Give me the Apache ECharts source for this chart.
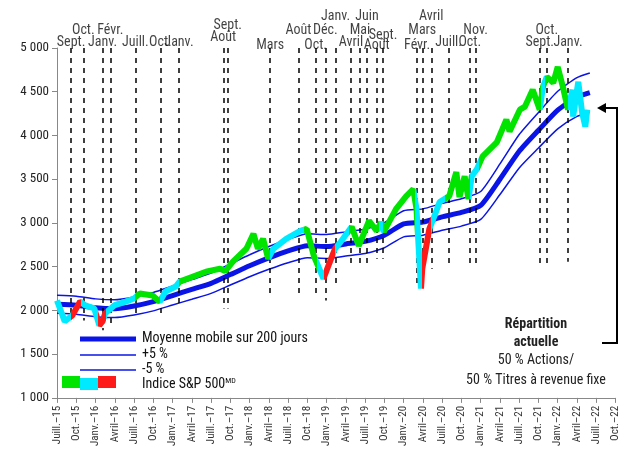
<!DOCTYPE html>
<html>
<head>
<meta charset="utf-8">
<script src="https://cdn.jsdelivr.net/npm/echarts@6/dist/echarts.min.js"></script>
<style>
html,body{margin:0;padding:0;background:#fff;}
#chart{width:621px;height:449px;}
</style>
</head>
<body>
<div id="chart"></div>
<script>
// axe x : mois depuis juill. 2015
const tickLabels = ['Juill.–15','Oct.–15','Janv.–16','Avril–16','Juill.–16','Oct.–16','Janv.–17','Avril–17','Juill.–17','Oct.–17',
  'Janv.–18','Avril–18','Juill.–18','Oct.–18','Janv.–19','Avril–19','Juill.–19','Oct.–19','Janv.–20','Avril–20',
  'Juill.–20','Oct.–20','Janv.–21','Avril–21','Juill.–21','Oct.–21','Janv.–22','Avril–22','Juill.–22','Oct.–22'];

// moyenne mobile 200 jours (trimestriel)
const maMonths = [0,3,6,9,12,15,18,21,24,27,30,33,36,39,42,45,48,51,54,57,60,63,66,69,72,75,78,81,83];
const maValues = [2070,2060,2030,2020,2050,2100,2170,2240,2310,2410,2510,2600,2680,2740,2730,2760,2790,2860,2990,3010,3070,3120,3200,3500,3820,4060,4290,4440,4490];
const maPlus5 = [2174,2163,2132,2121,2153,2205,2279,2352,2426,2531,2636,2730,2814,2877,2867,2898,2930,3003,3140,3161,3224,3276,3360,3675,4011,4263,4505,4662,4715];
const maMinus5 = [1967,1957,1929,1919,1948,1995,2062,2128,2195,2290,2385,2470,2546,2603,2594,2622,2651,2717,2841,2860,2917,2964,3040,3325,3629,3857,4076,4218,4266];

// indice S&P 500
const spMonths = [0,1.2,2.4,3.6,4.4,5.8,6.6,7.1,7.5,8.9,10.7,12,12.9,14.9,16,16.9,18.5,19.1,21.2,23.2,25.4,26.2,27.4,29.5,30.6,31.3,32.1,32.9,33.7,35.7,37.9,38.9,40,41.5,43.3,44.2,45.9,47,48.6,49.8,50.5,50.9,52.8,54.4,55.5,56,56.7,56.9,58,58.8,59.6,61.1,62.2,62.7,63.5,64.1,64.6,65.4,66.3,68.5,70,70.5,72.1,72.9,74.1,75.2,75.7,76.3,77.3,78,78.8,79.6,80.3,80.4,81.2,81.8,82.3,82.6];
const spValues = [2114,1875,1943,2102,2057,2023,1830,1875,1966,2057,2100,2136,2193,2170,2100,2216,2273,2330,2386,2443,2477,2450,2557,2705,2875,2705,2818,2591,2705,2818,2909,2932,2625,2364,2705,2784,2955,2739,3023,2909,3011,2898,3159,3307,3386,3159,2250,2477,2932,3080,3239,3307,3580,3295,3534,3273,3534,3614,3761,3920,4182,4045,4295,4330,4523,4295,4557,4670,4602,4784,4557,4295,4523,4216,4614,4261,4102,4295];

// couleur de l'indice par période (g = vert, c = cyan, r = rouge)
const regimeEnds = [2.2,3.8,6.4,7.7,12.2,16,19,33.2,38.5,40.5,41.6,43.3,45.5,50.2,50.8,55.8,56.8,58.2,60.5,64.3,65.8,75.4,76,79.6,90];
const regimeColors = ['c','r','c','r','c','g','c','g','c','g','c','r','c','g','c','g','c','r','c','g','c','g','c','g','c'];

// lignes verticales : mois, libellé, hauteur du libellé, bas de la ligne
const eventMonths = [2.2,4.1,7.1,8.3,12.2,16.1,19.0,25.9,26.6,33.2,37.6,40.3,41.8,43.4,45.8,47.2,48.3,49.8,50.8,56.1,56.9,58.3,61.0,64.3,65.2,75.2,76.3,79.6];
const eventLabels = ['Sept.','Oct.','Janv.','Févr.','Juill.','Oct.','Janv.','Août','Sept.','Mars','Août','Oct.','Déc.','Janv.','Avril','Mai','Juin','Août','Sept.','Févr.','Mars','Avril','Juill.','Oct.','Nov.','Sept.','Oct.','Janv.'];
const eventLabelLevels = [5068,5205,5068,5205,5068,5068,5068,5125,5261,5023,5205,5023,5205,5364,5068,5205,5364,5023,5140,5023,5205,5364,5068,5068,5205,5068,5205,5068];
const eventBottoms = [1943,1886,1773,1818,1966,1943,2080,2023,2023,2193,2170,2159,2114,2284,2534,2534,2534,2591,2591,2273,2273,2477,2534,2534,2534,2534,2534,2557];

const colorMap = {g: '#00e400', c: '#00eaff', r: '#ff1a1a'};
const FONT = '"Liberation Sans Narrow", "Roboto Condensed", "Noto Sans", sans-serif';

function init() {
    const pieces = [];
    let start = -10;
    regimeEnds.forEach((end, i) => {
        pieces.push({gt: start, lte: end, color: colorMap[regimeColors[i]]});
        start = end;
    });
    const zip = (xs, ys) => xs.map((x, i) => [x, ys[i]]);

    const markData = eventMonths.map((m, i) => [
        {coord: [m, 5000]},
        {coord: [m, eventBottoms[i]]}
    ]);

    const option = {
        animation: false,
        grid: {left: 57, top: 48, right: 4, bottom: 49},
        xAxis: {
            type: 'value', min: 0, max: 87, interval: 3,
            axisLine: {lineStyle: {color: '#888'}},
            axisTick: {show: true, lineStyle: {color: '#888'}},
            splitLine: {show: false},
            axisLabel: {
                rotate: 90, fontFamily: FONT, fontSize: 11, color: '#333',
                formatter: v => tickLabels[Math.round(v / 3)] || ''
            }
        },
        yAxis: {
            type: 'value', min: 1000, max: 5000, interval: 500,
            axisLine: {show: true, lineStyle: {color: '#888'}},
            axisTick: {show: true, lineStyle: {color: '#888'}},
            splitLine: {show: false},
            axisLabel: {
                fontFamily: FONT, fontSize: 13, color: '#222',
                formatter: v => v.toLocaleString('fr-FR').replace(/\s/g, ' ')
            }
        },
        visualMap: {
            show: false, type: 'piecewise', seriesIndex: 3, dimension: 0, pieces: pieces
        },
        series: [
            {
                type: 'line', data: zip(maMonths, maValues), symbol: 'none', smooth: 0.2,
                lineStyle: {color: '#0a14e6', width: 5}, z: 4,
                markLine: {
                    silent: true, symbol: 'none', label: {show: false},
                    lineStyle: {color: '#000', type: [5, 5], width: 1.5},
                    data: markData
                }
            },
            {type: 'line', data: zip(maMonths, maPlus5), symbol: 'none', smooth: 0.2, lineStyle: {color: '#0a14e6', width: 1.5}, z: 4},
            {type: 'line', data: zip(maMonths, maMinus5), symbol: 'none', smooth: 0.2, lineStyle: {color: '#0a14e6', width: 1.5}, z: 4},
            {type: 'line', data: zip(spMonths, spValues), symbol: 'none', lineStyle: {width: 6}, z: 5},
            {
                type: 'scatter', clip: false, symbolSize: 0, silent: true,
                data: eventMonths.map((m, i) => ({value: [m, eventLabelLevels[i]], name: eventLabels[i]})),
                label: {show: true, position: 'inside', formatter: p => p.name, fontFamily: FONT, fontSize: 14, color: '#111'}
            }
        ],
        graphic: [
            {type: 'line', shape: {x1: 80, y1: 339, x2: 136, y2: 339}, style: {stroke: '#0a14e6', lineWidth: 5}},
            {type: 'text', left: 142, top: 331, style: {text: 'Moyenne mobile sur 200 jours', font: '14px ' + FONT, fill: '#111'}},
            {type: 'line', shape: {x1: 80, y1: 355, x2: 136, y2: 355}, style: {stroke: '#0a14e6', lineWidth: 1.5}},
            {type: 'text', left: 142, top: 347, style: {text: '+5 %', font: '14px ' + FONT, fill: '#111'}},
            {type: 'line', shape: {x1: 80, y1: 370, x2: 136, y2: 370}, style: {stroke: '#0a14e6', lineWidth: 1.5}},
            {type: 'text', left: 142, top: 362, style: {text: '-5 %', font: '14px ' + FONT, fill: '#111'}},
            {type: 'rect', shape: {x: 62, y: 376, width: 18, height: 12}, style: {fill: colorMap.g}},
            {type: 'rect', shape: {x: 80, y: 378, width: 18, height: 12}, style: {fill: colorMap.c}},
            {type: 'rect', shape: {x: 98, y: 376, width: 18, height: 12}, style: {fill: colorMap.r}},
            {type: 'text', left: 142, top: 377, style: {
                text: 'Indice S&P 500{s|MD}', font: '14px ' + FONT, fill: '#111',
                rich: {s: {fontSize: 8, verticalAlign: 'top', padding: [0, 0, 6, 0], fontFamily: FONT}}
            }},
            {type: 'text', x: 536, y: 317, style: {text: 'Répartition', font: 'bold 14px ' + FONT, fill: '#222', textAlign: 'center'}},
            {type: 'text', x: 536, y: 335, style: {text: 'actuelle', font: 'bold 14px ' + FONT, fill: '#222', textAlign: 'center'}},
            {type: 'text', x: 536, y: 353, style: {text: '50 % Actions/', font: '14px ' + FONT, fill: '#222', textAlign: 'center'}},
            {type: 'text', x: 536, y: 373, style: {text: '50 % Titres à revenue fixe', font: '14px ' + FONT, fill: '#222', textAlign: 'center'}},
            {type: 'polyline', shape: {points: [[604, 108], [617, 108], [617, 343], [602, 343]]}, style: {stroke: '#000', lineWidth: 2, fill: null}},
            {type: 'polygon', shape: {points: [[597, 108], [606, 103], [606, 113]]}, style: {fill: '#000'}}
        ]
    };
    const myChart = echarts.init(document.querySelector('#chart'));
    myChart.setOption(option);
}

init();
</script>
</body>
</html>
